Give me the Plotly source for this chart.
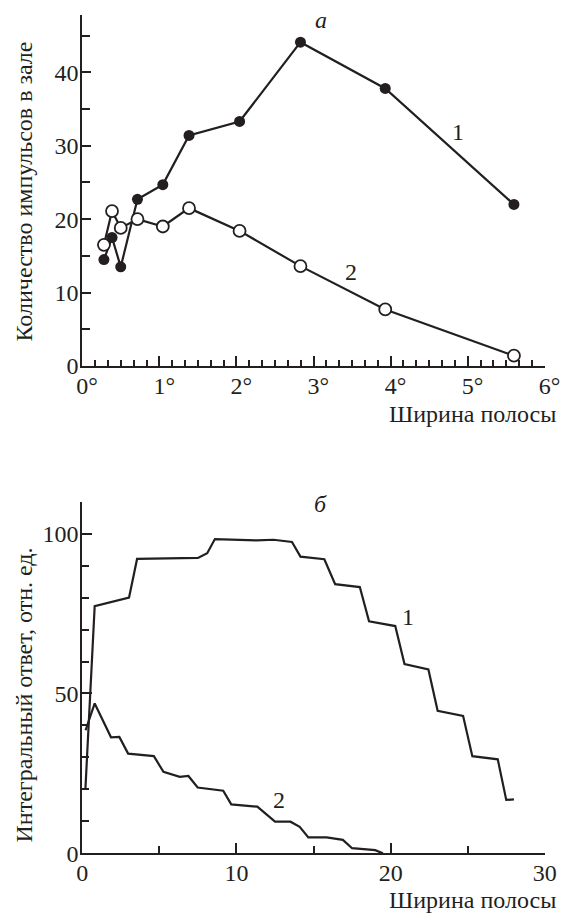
import plotly.graph_objects as go

# --- panel "а": pulse count vs. band width (degrees) ---
band_deg = [0.28, 0.385, 0.498, 0.715, 1.044, 1.384, 2.04, 2.83, 3.93, 5.60]
count_1 = [14.5, 17.5, 13.5, 22.7, 24.7, 31.4, 33.3, 44.1, 37.8, 22.0]
count_2 = [16.5, 21.1, 18.8, 20.0, 19.0, 21.5, 18.4, 13.6, 7.7, 1.4]
deg_ticks = [0, 1, 2, 3, 4, 5, 6]

# --- panel "б": integral response vs. band width ---
width_1 = [0.2, 0.8, 3.03, 3.55, 7.5, 8.1, 8.6, 11.3, 12.4, 13.6, 14.15, 15.7,
           16.4, 18.0, 18.6, 20.3, 20.9, 22.45, 23.05, 24.7, 25.3, 26.95, 27.5, 28.0]
resp_1 = [20.3, 77.3, 80.0, 92.1, 92.4, 93.9, 98.3, 97.9, 98.1, 97.4, 92.8, 92.0,
          84.2, 83.3, 72.6, 71.1, 59.2, 57.5, 44.6, 43.0, 30.4, 29.4, 16.7, 16.9]
width_2 = [0.21, 0.8, 1.86, 2.4, 2.97, 4.64, 5.26, 6.32, 6.88, 7.48, 9.14, 9.66,
           11.35, 12.5, 13.5, 14.1, 14.66, 15.85, 16.9, 17.5, 19.0, 19.5]
resp_2 = [38.5, 46.9, 36.3, 36.4, 31.2, 30.4, 25.5, 23.9, 24.2, 20.6, 19.6, 15.3,
          14.6, 9.9, 9.9, 8.3, 5.0, 5.0, 4.2, 1.6, 1.0, 0.0]

FONT = "Liberation Serif, Times New Roman, DejaVu Serif, serif"
FS = 24
BLACK = "#231f20"
LW = 2.2

fig = go.Figure()

fig.add_trace(go.Scatter(
    x=band_deg, y=count_1, mode="lines+markers", xaxis="x", yaxis="y",
    line=dict(color=BLACK, width=LW),
    marker=dict(symbol="circle", size=11, color=BLACK, line=dict(width=0)),
    cliponaxis=False, showlegend=False))
fig.add_trace(go.Scatter(
    x=band_deg, y=count_2, mode="lines+markers", xaxis="x", yaxis="y",
    line=dict(color=BLACK, width=LW),
    marker=dict(symbol="circle", size=12, color="white", line=dict(color=BLACK, width=1.8)),
    cliponaxis=False, showlegend=False))

fig.add_trace(go.Scatter(
    x=width_1, y=resp_1, mode="lines", xaxis="x2", yaxis="y2",
    line=dict(color=BLACK, width=LW), cliponaxis=False, showlegend=False))
fig.add_trace(go.Scatter(
    x=width_2, y=resp_2, mode="lines", xaxis="x2", yaxis="y2",
    line=dict(color=BLACK, width=LW), cliponaxis=False, showlegend=False))

hidden = "<span style='color:rgba(0,0,0,0)'>°</span>"
deg_text = [f"{hidden}{d}°" for d in deg_ticks]

common = dict(showgrid=False, zeroline=False, showline=True, linecolor=BLACK,
              linewidth=2, ticks="inside", tickcolor=BLACK, tickwidth=1.8,
              automargin=False,
              tickfont=dict(family=FONT, size=FS, color=BLACK))

dom_x = [0.1455, 0.9625]

fig.update_layout(
    width=566, height=915,
    margin=dict(l=0, r=0, t=0, b=0, autoexpand=False),
    paper_bgcolor="white", plot_bgcolor="white",
    font=dict(family=FONT, size=FS, color=BLACK),
    xaxis=dict(common, domain=dom_x, anchor="y", range=[0, 6],
               tickvals=deg_ticks, ticktext=deg_text, ticklen=10,
               ticklabelstandoff=-3,
               minor=dict(dtick=1 / 6, tick0=0, ticks="inside", ticklen=6,
                          tickwidth=1.6, tickcolor=BLACK)),
    yaxis=dict(common, domain=[0.6, 0.9836], anchor="x", range=[0, 47.8],
               tick0=0, dtick=10, ticklen=9, ticklabelstandoff=-3,
               minor=dict(dtick=5, tick0=0, ticks="inside", ticklen=8,
                          tickwidth=1.6, tickcolor=BLACK)),
    xaxis2=dict(common, domain=dom_x, anchor="y2", range=[0, 30],
                tick0=0, dtick=10, ticklen=10, ticklabelstandoff=-3,
                minor=dict(dtick=5, tick0=0, ticks="inside", ticklen=7,
                           tickwidth=1.6, tickcolor=BLACK)),
    yaxis2=dict(common, domain=[0.0674, 0.4517], anchor="x2", range=[0, 110],
                tick0=0, dtick=50, ticklen=10, ticklabelstandoff=-3,
                minor=dict(dtick=10, tick0=0, ticks="inside", ticklen=7,
                           tickwidth=1.6, tickcolor=BLACK)),
)

ann = []
# curve numbers and panel letters
ann += [
    dict(x=4.88, y=31.9, xref="x", yref="y", text="1"),
    dict(x=3.48, y=12.8, xref="x", yref="y", text="2"),
    dict(x=3.09, y=47.1, xref="x", yref="y", text="<i>а</i>"),
    dict(x=21.1, y=73.9, xref="x2", yref="y2", text="1"),
    dict(x=12.78, y=16.7, xref="x2", yref="y2", text="2"),
    dict(x=15.46, y=109.2, xref="x2", yref="y2", text="<i>б</i>"),
]
# axis titles
ann += [
    dict(x=472 / 566, y=1 - 414 / 915, xref="paper", yref="paper",
         text="Ширина полосы"),
    dict(x=472 / 566, y=1 - 900 / 915, xref="paper", yref="paper",
         text="Ширина полосы"),
    dict(x=23 / 566, y=1 - 191.5 / 915, xref="paper", yref="paper",
         text="Количество импульсов в зале", textangle=-90),
    dict(x=23 / 566, y=1 - 695.5 / 915, xref="paper", yref="paper",
         text="Интегральный ответ, отн. ед.", textangle=-90),
]
for a in ann:
    a["font"] = dict(family=FONT, size=FS, color=BLACK)
    a["showarrow"] = False
    a["xanchor"] = "center"
    a["yanchor"] = "middle"
fig.update_layout(annotations=ann)

fig.write_html("out.html")
